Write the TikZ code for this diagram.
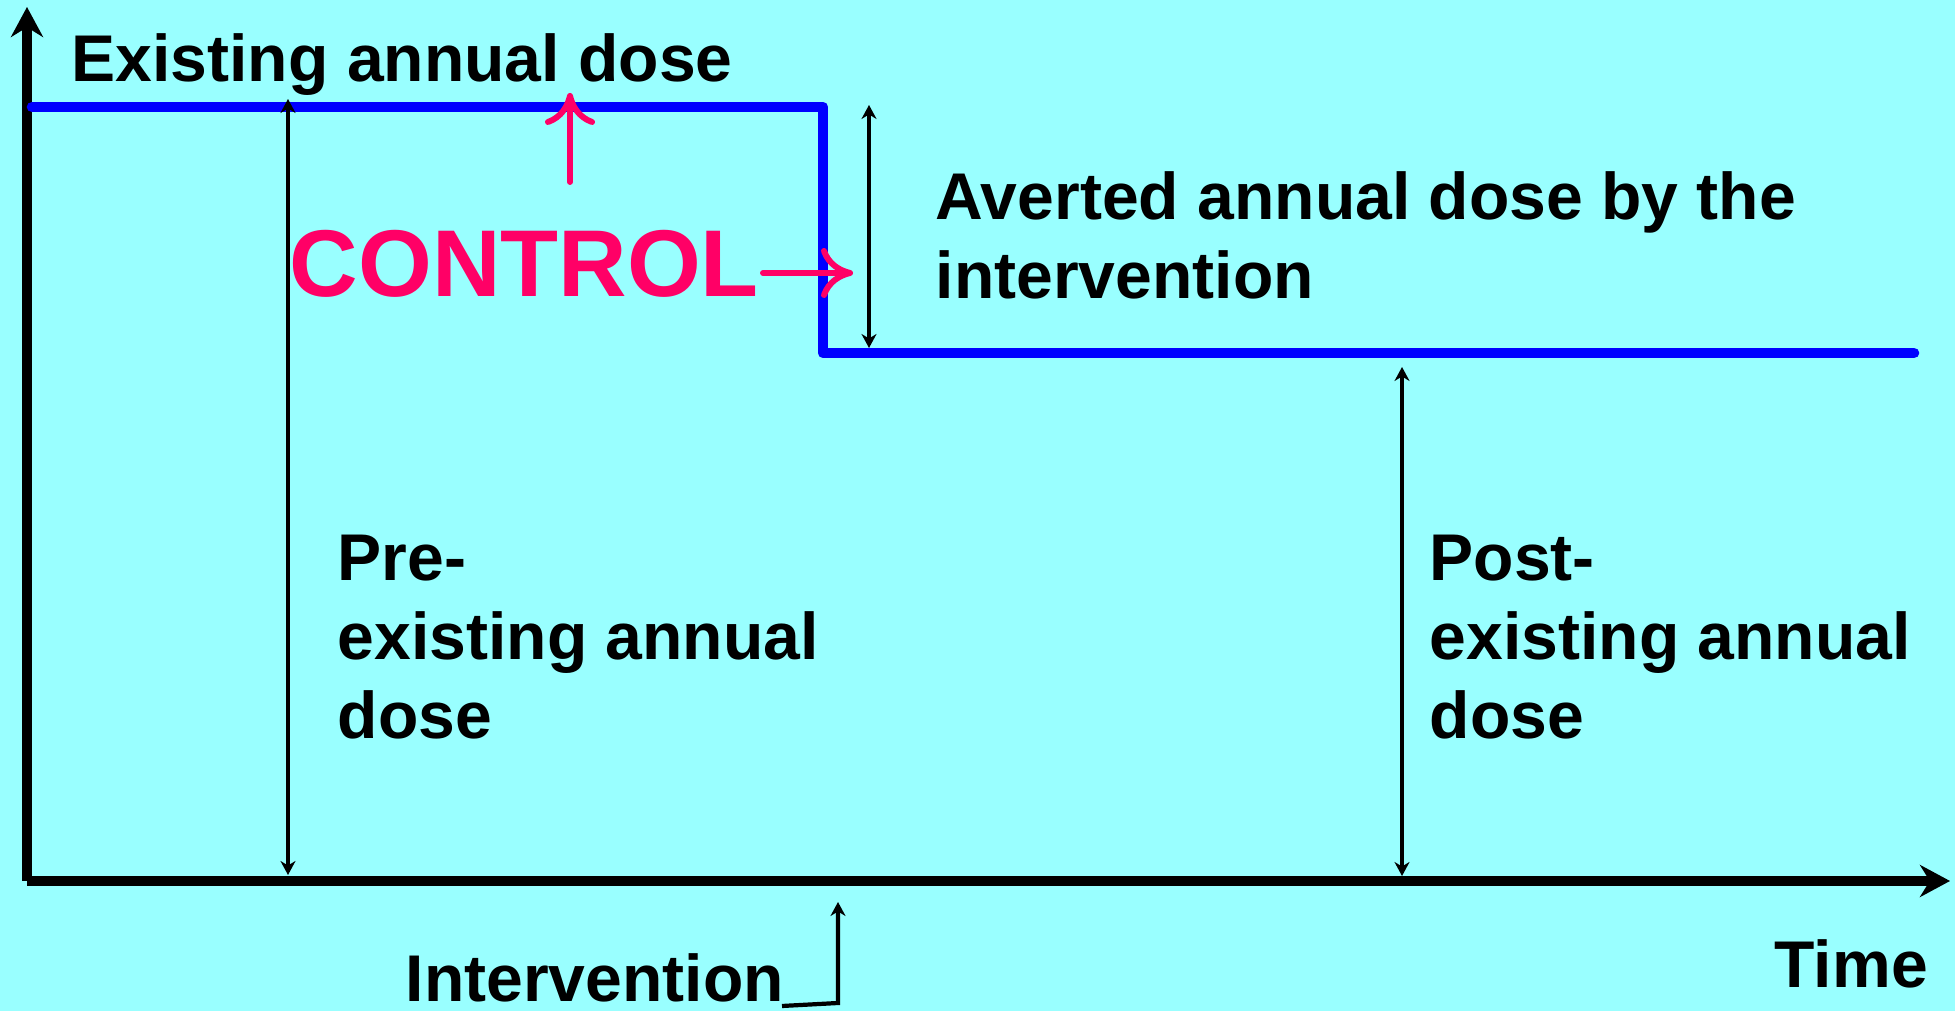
\documentclass[tikz,border=0pt]{standalone}
\usepackage{fontspec}
\setmainfont{Liberation Sans}
\usetikzlibrary{arrows.meta}
\definecolor{hgrund}{RGB}{153,255,255}
\definecolor{kontrolle}{RGB}{255,0,102}

\begin{document}
\begin{tikzpicture}[
		achse/.style = {line width=2.85pt, -{Stealth[length=3mm, width=3.2mm]}},
		dosis/.style = {line width=3pt, blue, line join=round, line cap=round},
		mass/.style = {line width=1.2pt, {Stealth[length=1.4mm, width=1.5mm]}-{Stealth[length=1.4mm, width=1.5mm]}},
		zeiger/.style = {line width=1.2pt, -{Stealth[length=1.4mm, width=1.5mm]}},
		rot/.style = {line width=1.7pt, kontrolle, line cap=round, -{Computer Modern Rightarrow[length=3.2mm, width=5mm]}},
		beschr/.style = {font=\fontsize{18.8pt}{22.5pt}\selectfont\bfseries, inner sep=0pt, anchor=base west, align=left}
	]
		% Hintergrund
		\fill [hgrund] (0, 0) rectangle (19.55, 10.11);
		\useasboundingbox (0, 0) rectangle (19.55, 10.11);
		% Achsen
		\coordinate (O) at (0.27, 1.30);
		\coordinate (ymax) at (0.27, 10.04);
		\coordinate (xmax) at (19.50, 1.30);
		\draw [achse] (O) -- (ymax);
		\draw [achse] (O) -- (xmax);
		% Dosisverlauf
		\coordinate (d1) at (0.32, 9.04);
		\coordinate (d2) at (8.23, 9.04);
		\coordinate (d3) at (8.23, 6.58);
		\coordinate (d4) at (19.14, 6.58);
		\draw [dosis] (d1) -- (d2) -- (d3) -- (d4);
		% Masspfeile
		\coordinate (vo) at (2.88, 9.12);
		\coordinate (vu) at (2.88, 1.36);
		\coordinate (ao) at (8.69, 9.06);
		\coordinate (au) at (8.69, 6.63);
		\coordinate (no) at (14.02, 6.44);
		\coordinate (nu) at (14.02, 1.35);
		\draw [mass] (vo) -- (vu);
		\draw [mass] (ao) -- (au);
		\draw [mass] (no) -- (nu);
		% Beschriftung (Anker an der letzten Grundlinie)
		\node [beschr] (bestehend) at (0.71, 9.29) {Existing annual dose};
		\node [beschr] (vermieden) at (9.35, 7.12) {Averted annual dose by the\\intervention};
		\node [beschr] (vorher) at (3.37, 2.72) {Pre-\\existing annual\\dose};
		\node [beschr] (nachher) at (14.29, 2.72) {Post-\\existing annual\\dose};
		\node [beschr] (zeit) at (17.74, 0.23) {Time};
		\node [beschr] (eingriff) at (4.05, 0.09) {Intervention};
		% Eingriff
		\coordinate (e1) at (7.82, 0.05);
		\coordinate (e2) at (8.38, 0.08);
		\coordinate (e3) at (8.38, 1.09);
		\draw [zeiger] (e1) -- (e2) -- (e3);
		% Kontrolle
		\node [beschr, font=\fontsize{27pt}{32pt}\selectfont\bfseries, text=kontrolle] (kontrolle) at (2.89, 7.14) {CONTROL};
		\coordinate (k1) at (5.70, 8.29);
		\coordinate (k2) at (5.70, 9.18);
		\coordinate (k3) at (7.63, 7.38);
		\coordinate (k4) at (8.53, 7.38);
		\draw [rot] (k1) -- (k2);
		\draw [rot] (k3) -- (k4);
	\end{tikzpicture}
\end{document}
